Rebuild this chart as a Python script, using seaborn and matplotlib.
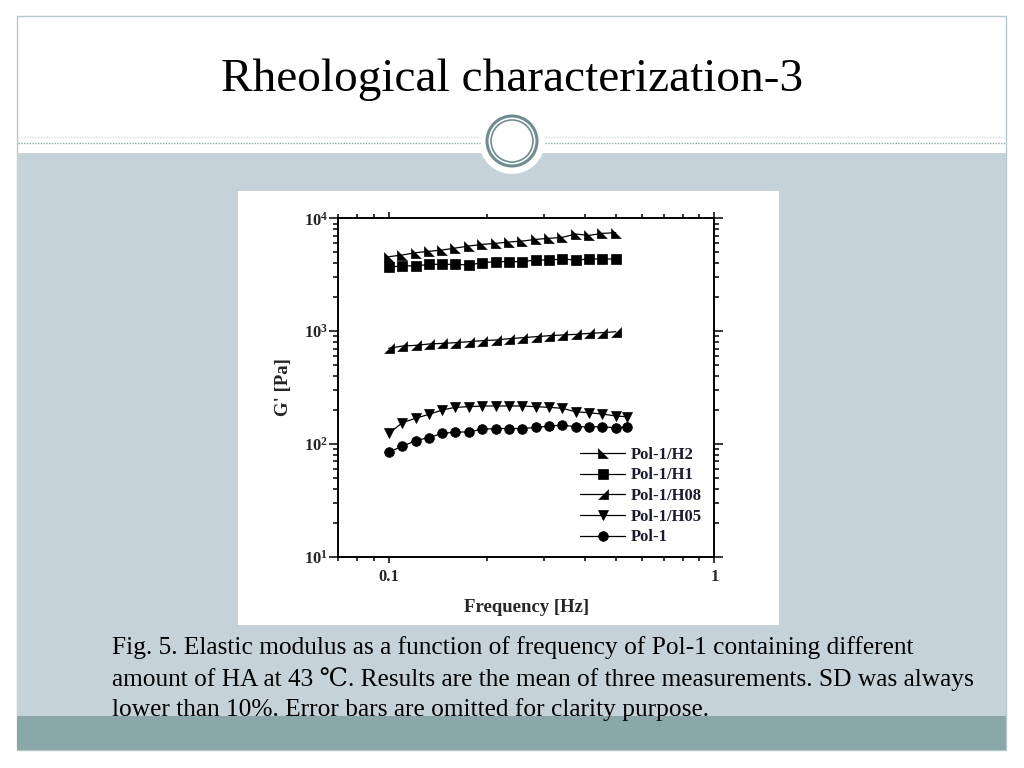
import numpy as np
import pandas as pd
import seaborn as sns
import matplotlib.pyplot as plt
from matplotlib.patches import Rectangle, Circle
from matplotlib.ticker import LogLocator, NullFormatter

# frequency sweep [Hz]
freq = [0.100, 0.110, 0.121, 0.133, 0.146, 0.160, 0.176, 0.194, 0.213, 0.234,
        0.257, 0.283, 0.311, 0.341, 0.375, 0.412, 0.453, 0.498, 0.540]

# elastic modulus G' [Pa]
g_h2 = [4570, 4730, 4960, 5100, 5240, 5450, 5680, 5880, 6000, 6170,
        6290, 6510, 6650, 6780, 7260, 7060, 7360, 7460]
g_h1 = [3680, 3800, 3780, 3910, 3910, 3910, 3860, 4040, 4130, 4130,
        4130, 4270, 4270, 4360, 4270, 4360, 4360, 4360]
g_h08 = [704, 738, 748, 769, 779, 790, 806, 823, 834, 857,
         874, 893, 911, 924, 936, 955, 969, 988]
g_h05 = [124, 154, 169, 183, 200, 211, 214, 217, 217, 217,
         217, 214, 211, 207, 193, 189, 184, 177, 174]
g_pol1 = [85, 95, 107, 114, 124, 127, 128, 135, 137, 137,
          137, 140, 144, 147, 142, 142, 142, 139, 142]

series_names = ['Pol-1/H2', 'Pol-1/H1', 'Pol-1/H08', 'Pol-1/H05', 'Pol-1']
series_vals = [g_h2, g_h1, g_h08, g_h05, g_pol1]

x_ticks = [0.1, 1]
x_tick_labels = ['0.1', '1']
y_ticks = [10, 100, 1000, 10000]
y_tick_labels = ['$10^{1}$', '$10^{2}$', '$10^{3}$', '$10^{4}$']

title = 'Rheological characterization-3'
caption_lines = [
    'Fig. 5. Elastic modulus as a function of frequency of Pol-1 containing different',
    'amount of HA at 43 \u2103. Results are the mean of three measurements. SD was always',
    'lower than 10%. Error bars are omitted for clarity purpose.',
]

rows = []
for name, vals in zip(series_names, series_vals):
    for f, v in zip(freq, vals):
        rows.append((name, f, v))
df = pd.DataFrame(rows, columns=['sample', 'freq', 'G'])

sns.set_style('ticks')
plt.rcParams['font.family'] = ['Liberation Serif', 'DejaVu Serif', 'DejaVu Sans']
plt.rcParams['mathtext.fontset'] = 'custom'
plt.rcParams['mathtext.rm'] = 'Liberation Serif:bold'
plt.rcParams['mathtext.it'] = 'Liberation Serif:bold'
plt.rcParams['mathtext.bf'] = 'Liberation Serif:bold'

markers = {
    'Pol-1/H2': [(-1, 1), (-1, -1), (1, -1)],
    'Pol-1/H1': 's',
    'Pol-1/H08': [(1, 1), (1, -1), (-1, -1)],
    'Pol-1/H05': 'v',
    'Pol-1': 'o',
}
msizes = {'Pol-1/H2': 7.5, 'Pol-1/H1': 7, 'Pol-1/H08': 7, 'Pol-1/H05': 7, 'Pol-1': 7}

fig = plt.figure(figsize=(10.24, 7.68), dpi=100)

# slide background
bg = fig.add_axes([0, 0, 1, 1], zorder=-5)
bg.set_xlim(0, 1024)
bg.set_ylim(768, 0)
bg.axis('off')
bg.add_patch(Rectangle((17, 16), 989, 734, facecolor='white', edgecolor='#b9c8cd', lw=1))
bg.add_patch(Rectangle((17, 153), 989, 597, facecolor='#c6d2d9', edgecolor='none'))
bg.add_patch(Rectangle((17, 716), 989, 34, facecolor='#8aa8a9', edgecolor='none'))
bg.plot([18, 480], [137, 137], ls=(0, (1, 1)), color='#d3dcdf', lw=1)
bg.plot([545, 1005], [137, 137], ls=(0, (1, 1)), color='#d3dcdf', lw=1)
bg.plot([18, 480], [143, 143], ls=(0, (1, 1)), color='#8ea7aa', lw=1)
bg.plot([545, 1005], [143, 143], ls=(0, (1, 1)), color='#8ea7aa', lw=1)
bg.add_patch(Circle((512, 141), 33, facecolor='white', edgecolor='none'))
bg.add_patch(Circle((512, 141), 25, facecolor='none', edgecolor='#6f8c8f', lw=2.2))
bg.add_patch(Circle((512, 141), 21, facecolor='none', edgecolor='#6f8c8f', lw=1.2))
bg.add_patch(Rectangle((238, 191), 541, 434, facecolor='white', edgecolor='none'))

fig.text(0.5, 1 - 80 / 768, title, ha='center', va='center', fontsize=34, color='black')
for i, line in enumerate(caption_lines):
    fig.text(112 / 1024, 1 - (648 + 31 * i) / 768, line, ha='left', va='center',
             fontsize=18.3, color='black')

# chart
ax = fig.add_axes([0.3304, 0.2751, 0.3672, 0.4406])
ax.set_facecolor('white')
for name in series_names:
    sub = df[df['sample'] == name]
    sns.lineplot(data=sub, x='freq', y='G', ax=ax, color='black', lw=0.9,
                 marker=markers[name], ms=msizes[name], mfc='black', mec='black',
                 mew=0.5, label=name)

ax.set_xscale('log')
ax.set_yscale('log')
ax.set_xlim(0.07, 1)
ax.set_ylim(10, 10000)
ax.set_xticks(x_ticks, x_tick_labels)
ax.set_yticks(y_ticks, y_tick_labels)
ax.xaxis.set_minor_locator(LogLocator(base=10, subs=np.arange(2, 10)))
ax.yaxis.set_minor_locator(LogLocator(base=10, subs=np.arange(2, 10)))
ax.xaxis.set_minor_formatter(NullFormatter())
ax.yaxis.set_minor_formatter(NullFormatter())
ax.tick_params(which='both', direction='out', top=True, right=True,
               labeltop=False, labelright=False, color='black', width=1.1)
ax.tick_params(axis='x', which='major', length=4, labelsize=12, pad=5)
ax.tick_params(axis='x', which='minor', length=3)
ax.tick_params(axis='y', which='major', length=6.5, labelsize=12, pad=1)
ax.tick_params(axis='y', which='minor', length=3.5)
for lab in ax.get_xticklabels() + ax.get_yticklabels():
    lab.set_fontweight('bold')
for sp in ax.spines.values():
    sp.set_linewidth(1.4)
    sp.set_color('black')

ax.set_xlabel('Frequency [Hz]', fontsize=13.5, fontweight='bold', labelpad=10)
ax.set_ylabel("G' [Pa]", fontsize=13.5, fontweight='bold', labelpad=8)

leg = ax.legend(loc='upper left', bbox_to_anchor=(0.643, 0.325), frameon=False,
                prop={'weight': 'bold', 'size': 12}, handlelength=2.7,
                handletextpad=0.35, labelspacing=0.28, borderpad=0, borderaxespad=0)
for t in leg.get_texts():
    t.set_color('#1a1a2e')

fig.savefig('out.png', dpi=100)
